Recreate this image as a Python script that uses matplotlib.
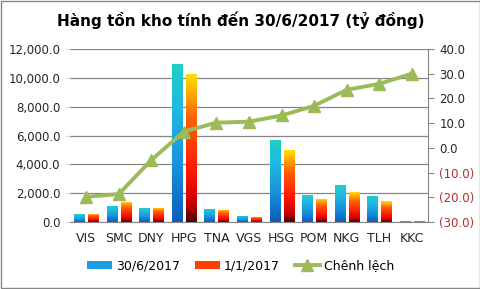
import numpy as np
import matplotlib
matplotlib.use("Agg")
import matplotlib.pyplot as plt
from matplotlib.colors import LinearSegmentedColormap
from matplotlib.lines import Line2D
from matplotlib.patches import Rectangle

categories = ["VIS", "SMC", "DNY", "HPG", "TNA", "VGS", "HSG", "POM", "NKG", "TLH", "KKC"]
inv_2017_06 = [530, 1130, 990, 10930, 920, 440, 5660, 1890, 2540, 1770, 50]
inv_2017_01 = [570, 1410, 980, 10240, 850, 350, 4970, 1610, 2080, 1430, 40]
change_pct = [-19.8, -18.7, -4.9, 6.6, 10.2, 10.6, 13.1, 17.0, 23.5, 25.9, 30.0]
left_ticks = [0, 2000, 4000, 6000, 8000, 10000, 12000]
right_ticks = [-30, -20, -10, 0, 10, 20, 30, 40]
legend_labels = ["30/6/2017", "1/1/2017", "Chênh lệch"]
title = "Hàng tồn kho tính đến 30/6/2017 (tỷ đồng)"

plt.rcParams['font.family'] = ['DejaVu Sans']
fig = plt.figure(figsize=(4.81, 2.89), dpi=100)
fig.patch.set_facecolor("white")
ax = fig.add_axes([0.1455, 0.2318, 0.7445, 0.5986])
ax2 = ax.twinx()

blue_cmap = LinearSegmentedColormap.from_list(
    "b", [(0, "#0c5cb8"), (0.35, "#1890dc"), (0.7, "#20b8e4"), (1, "#1ed0c2")])
red_cmap = LinearSegmentedColormap.from_list(
    "r", [(0, "#4a0000"), (0.12, "#c80000"), (0.35, "#ff1800"), (0.7, "#ff6000"), (1, "#ffe000")])

x = np.arange(len(categories))
w = 0.31
off = 0.215
grad = np.linspace(0, 1, 256).reshape(-1, 1)

def grad_bars(xs, vals, cmap):
    bars = ax.bar(xs, vals, w, color="none", edgecolor="none", zorder=2)
    for b in bars:
        x0, y0 = b.get_x(), b.get_y()
        bw, bh = b.get_width(), b.get_height()
        im = ax.imshow(grad, cmap=cmap, aspect="auto", origin="lower",
                       extent=[x0, x0 + bw, y0, y0 + bh], zorder=2)
        im.set_clip_path(b)
    return bars

grad_bars(x - off, inv_2017_06, blue_cmap)
grad_bars(x + off, inv_2017_01, red_cmap)

ax.set_xlim(-0.5, len(categories) - 0.5)
ax.set_ylim(0, 12000)
ax.set_yticks(left_ticks)
ax.set_yticklabels([f"{v:,.1f}" for v in left_ticks])
ax.set_xticks(x)
ax.set_xticklabels(categories)
ax.yaxis.grid(True, color="#868686", linewidth=0.9)
ax.set_axisbelow(True)
for s in ["top", "left", "right"]:
    ax.spines[s].set_visible(False)
ax.spines["bottom"].set_color("#868686")
ax.tick_params(axis="x", length=0, labelsize=9, colors="#262626", pad=7)
ax.tick_params(axis="y", length=3, color="#d9d9d9", labelsize=8.5, colors="#262626", pad=4)
ax.set_aspect("auto")

ax2.plot(x, change_pct, color="#9bbb59", linewidth=2.8, marker="^", markersize=8, zorder=5)
ax2.set_ylim(-30, 40)
ax2.set_yticks(right_ticks)
labels = []
for v in right_ticks:
    labels.append(f"({abs(v):.1f})" if v < 0 else f"{v:.1f}")
ax2.set_yticklabels(labels)
for t, v in zip(ax2.get_yticklabels(), right_ticks):
    t.set_color("#b03030" if v < 0 else "#262626")
for s in ["top", "left", "bottom"]:
    ax2.spines[s].set_visible(False)
ax2.spines["right"].set_color("#868686")
ax2.tick_params(axis="y", length=4, color="#868686", labelsize=8.5, pad=4)

fig.text(0.5, 0.93, title, ha="center", va="center", fontsize=11, fontweight="bold", color="#000000")

handles = [Rectangle((0, 0), 1, 1, facecolor="#1a9ee0"),
           Rectangle((0, 0), 1, 1, facecolor="#ff4000"),
           Line2D([0], [0], color="#9bbb59", linewidth=2.8, marker="^", markersize=8)]
fig.legend(handles, legend_labels, loc="center", bbox_to_anchor=(0.5, 0.08), ncol=3,
           frameon=False, fontsize=9, handlelength=2.0, handleheight=0.5,
           columnspacing=1.2, handletextpad=0.3)

border = Rectangle((0.002, 0.003), 0.995, 0.994, transform=fig.transFigure,
                   fill=False, edgecolor="#868686", linewidth=1)
fig.patches.append(border)

fig.savefig("out.png", dpi=100, facecolor="white")
